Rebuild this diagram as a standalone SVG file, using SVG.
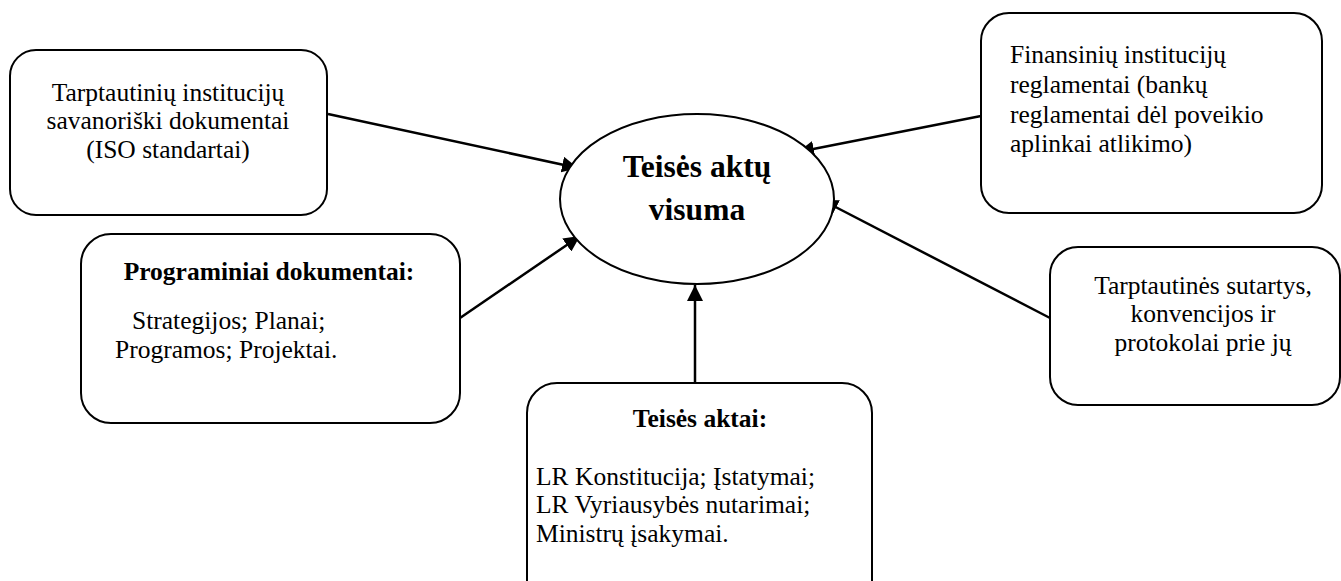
<svg xmlns="http://www.w3.org/2000/svg" width="1341" height="581" viewBox="0 0 1341 581">
  <style>
    .box { fill: #fff; stroke: #000; stroke-width: 2; }
    .txt { font-family: "Liberation Serif", "Times New Roman", serif; font-size: 25.5px; fill: #000; }
    .bold { font-weight: bold; }
    .mid { text-anchor: middle; }
    .edge { stroke: #000; stroke-width: 2.5; fill: none; marker-end: url(#arrow); }
  </style>
  <defs>
    <marker id="arrow" markerUnits="userSpaceOnUse" markerWidth="18" markerHeight="16" refX="16" refY="8" orient="auto">
      <path d="M0,0 L16,8 L0,16 Z" fill="#000"/>
    </marker>
  </defs>
  <rect width="1341" height="581" fill="#fff"/>

  <g id="connectors">
    <line class="edge" x1="328" y1="114" x2="578" y2="168"/>
    <line class="edge" x1="460" y1="318" x2="580" y2="236"/>
    <line class="edge" x1="695" y1="383" x2="695" y2="285"/>
    <line class="edge" x1="981" y1="116" x2="798" y2="152"/>
    <line class="edge" x1="1050" y1="318" x2="822" y2="200"/>
  </g>

  <g id="center">
    <ellipse class="box" cx="697" cy="199" rx="137" ry="85"/>
    <text class="txt bold mid" x="697" y="177" style="font-size:31.5px">Teisės aktų</text>
    <text class="txt bold mid" x="697" y="220" style="font-size:31.5px">visuma</text>
  </g>

  <g id="iso">
    <rect class="box" x="10" y="50" width="317" height="165" rx="26"/>
    <text class="txt mid" x="168" y="100.5">Tarptautinių institucijų</text>
    <text class="txt mid" x="168" y="129">savanoriški dokumentai</text>
    <text class="txt mid" x="168" y="157.5">(ISO standartai)</text>
  </g>

  <g id="finance">
    <rect class="box" x="981" y="13" width="341" height="200" rx="28"/>
    <text class="txt" x="1010" y="63">Finansinių institucijų</text>
    <text class="txt" x="1010" y="93">reglamentai (bankų</text>
    <text class="txt" x="1010" y="123">reglamentai dėl poveikio</text>
    <text class="txt" x="1010" y="152">aplinkai atlikimo)</text>
  </g>

  <g id="programs">
    <rect class="box" x="81" y="234" width="379" height="189" rx="30"/>
    <text class="txt bold mid" x="269" y="280">Programiniai dokumentai:</text>
    <text class="txt" x="132" y="329">Strategijos; Planai;</text>
    <text class="txt" x="115" y="357.5">Programos; Projektai.</text>
  </g>

  <g id="treaties">
    <rect class="box" x="1050" y="247" width="290" height="158" rx="28"/>
    <text class="txt mid" x="1203" y="293.5">Tarptautinės sutartys,</text>
    <text class="txt mid" x="1203" y="322">konvencijos ir</text>
    <text class="txt mid" x="1203" y="350.5">protokolai prie jų</text>
  </g>

  <g id="laws">
    <rect class="box" x="527" y="383" width="345" height="230" rx="30"/>
    <text class="txt bold mid" x="700" y="427">Teisės aktai:</text>
    <text class="txt" x="536" y="484.5">LR Konstitucija; Įstatymai;</text>
    <text class="txt" x="536" y="513">LR Vyriausybės nutarimai;</text>
    <text class="txt" x="536" y="541.5">Ministrų įsakymai.</text>
  </g>
</svg>
